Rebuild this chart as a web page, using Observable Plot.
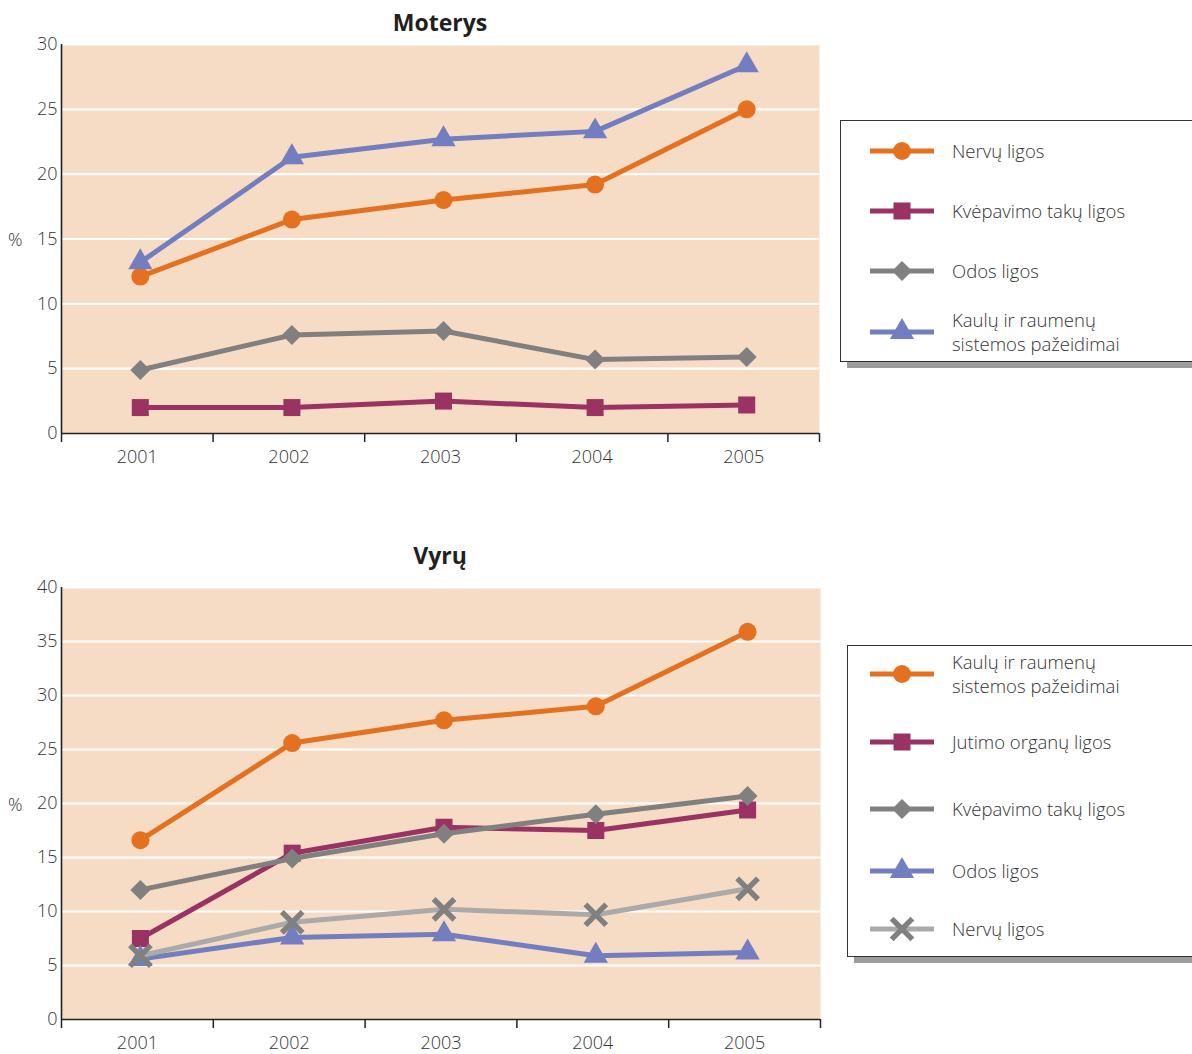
<!DOCTYPE html>
<html><head><meta charset="utf-8">
<script src="https://cdn.jsdelivr.net/npm/d3@7"></script>
<script src="https://cdn.jsdelivr.net/npm/@observablehq/plot@0.6"></script>
<style>
body{margin:0;background:#fff;font-family:"Open Sans",sans-serif;}
#wrap{position:relative;width:1192px;height:1054px;overflow:hidden;background:#fff;}
.title{position:absolute;left:340px;width:200px;text-align:center;font-weight:700;font-size:23px;color:#231f20;line-height:28px;}
.pct{position:absolute;left:8px;font-size:18px;color:#333;font-weight:300;line-height:20px;}
.legend{position:absolute;border:1.5px solid #333;background:#fff;box-shadow:7px 6px 0 #9c9c9c;width:400px;}
.item{position:absolute;display:flex;align-items:center;transform:translateY(-50%);}
.item .txt{font-size:18.5px;color:#333;line-height:24px;font-weight:300;position:absolute;white-space:nowrap;}
</style>
</head><body>
<div id="wrap"></div>
<script>
// ---------- data ----------
const years = [2001, 2002, 2003, 2004, 2005];
const yearBounds = [2000.5, 2001.5, 2002.5, 2003.5, 2004.5, 2005.5];

const womenTitle = "Moterys";
const womenSeries = ["Nervų ligos", "Kvėpavimo takų ligos", "Odos ligos", "Kaulų ir raumenų sistemos pažeidimai"];
const womenNervu = [12.1, 16.5, 18.0, 19.2, 25.0];
const womenKvepavimo = [2.0, 2.0, 2.5, 2.0, 2.2];
const womenOdos = [4.9, 7.6, 7.9, 5.7, 5.9];
const womenKaulu = [13.2, 21.3, 22.7, 23.3, 28.4];
const womenTicks = [0, 5, 10, 15, 20, 25, 30];

const menTitle = "Vyrų";
const menSeries = ["Kaulų ir raumenų sistemos pažeidimai", "Jutimo organų ligos", "Kvėpavimo takų ligos", "Odos ligos", "Nervų ligos"];
const menKaulu = [16.6, 25.6, 27.7, 29.0, 35.9];
const menJutimo = [7.5, 15.4, 17.8, 17.5, 19.4];
const menKvepavimo = [12.0, 14.9, 17.2, 19.0, 20.7];
const menOdos = [5.6, 7.6, 7.9, 5.9, 6.2];
const menNervu = [5.9, 9.0, 10.2, 9.7, 12.1];
const menTicks = [0, 5, 10, 15, 20, 25, 30, 35, 40];

// ---------- styles ----------
const ORANGE = "#e4711f", MAGENTA = "#9a3263", GREY = "#808080", BLUE = "#727ec0", LGREY = "#abaaab";
const womenStyles = [
  {line: ORANGE, mark: ORANGE, symbol: "circle"},
  {line: MAGENTA, mark: MAGENTA, symbol: "square"},
  {line: GREY, mark: GREY, symbol: "diamond2"},
  {line: BLUE, mark: BLUE, symbol: "triangle"}
];
const menStyles = [
  {line: ORANGE, mark: ORANGE, symbol: "circle"},
  {line: MAGENTA, mark: MAGENTA, symbol: "square"},
  {line: GREY, mark: GREY, symbol: "diamond2"},
  {line: BLUE, mark: BLUE, symbol: "triangle"},
  {line: LGREY, mark: GREY, symbol: "times"}
];
const R = {circle: 9, square: 9.6, diamond2: 9, triangle: 9, times: 9.5};

const wrap = document.getElementById("wrap");

function buildChart(series, values, styles, ticks, opts) {
  const yMax = ticks[ticks.length - 1];
  const marks = [
    Plot.frame({fill: "#f6dbc5", stroke: null}),
    Plot.ruleY(ticks.filter(t => t > 0), {stroke: "#fff", strokeWidth: 2.2}),
    Plot.axisY({ticks, tickSize: 0, tickPadding: 4, fontSize: 18, label: null, fill: "#333"}),
    Plot.axisX({ticks: yearBounds, tickSize: 9, tickFormat: () => "", label: null, stroke: "#222", strokeWidth: 1.5}),
    Plot.axisX({ticks: years, tickSize: 0, tickPadding: 17, tickFormat: d => String(d), fontSize: 18, label: null, fill: "#333"}),
    Plot.ruleX([yearBounds[0]], {stroke: "#222", strokeWidth: 1.6}),
    Plot.ruleY([0], {stroke: "#222", strokeWidth: 1.6})
  ];
  series.forEach((s, i) => {
    const rows = years.map((y, j) => ({series: s, year: y, value: values[i][j]}));
    const st = styles[i];
    marks.push(Plot.line(rows, {x: "year", y: "value", stroke: st.line, strokeWidth: 5, dx: 3}));
    if (st.symbol === "times") {
      marks.push(Plot.dot(rows, {x: "year", y: "value", symbol: "times", r: R.times, stroke: st.mark, strokeWidth: 5.5, fill: "none", dx: 3}));
    } else {
      marks.push(Plot.dot(rows, {x: "year", y: "value", symbol: st.symbol, r: R[st.symbol], fill: st.mark, stroke: "none", dx: 3}));
    }
  });
  const svg = Plot.plot({
    width: 830,
    height: opts.height,
    marginLeft: 61,
    marginRight: opts.marginRight,
    marginTop: opts.marginTop,
    marginBottom: opts.marginBottom,
    x: {domain: [yearBounds[0], yearBounds[yearBounds.length - 1]]},
    y: {domain: [0, yMax]},
    style: {fontFamily: "'Open Sans', sans-serif", fontWeight: 300, fontSize: "18px", color: "#222", background: "transparent", overflow: "visible"},
    marks
  });
  svg.style.position = "absolute";
  svg.style.left = "0px";
  svg.style.top = opts.top + "px";
  wrap.appendChild(svg);
}

function addTitle(text, top) {
  const d = document.createElement("div");
  d.className = "title"; d.textContent = text; d.style.top = top + "px";
  wrap.appendChild(d);
}
function addPct(top) {
  const d = document.createElement("div");
  d.className = "pct"; d.textContent = "%"; d.style.top = top + "px";
  wrap.appendChild(d);
}

function swatch(st) {
  const w = 64, h = 28;
  const svg = d3.create("svg").attr("width", w).attr("height", h).style("overflow", "visible");
  svg.append("line").attr("x1", 0).attr("x2", w).attr("y1", h / 2).attr("y2", h / 2)
    .attr("stroke", st.line).attr("stroke-width", 5);
  const typeMap = {circle: d3.symbolCircle, square: d3.symbolSquare, diamond2: d3.symbolDiamond2, triangle: d3.symbolTriangle, times: d3.symbolTimes};
  const r = R[st.symbol];
  const p = svg.append("path").attr("transform", `translate(${w / 2},${h / 2})`)
    .attr("d", d3.symbol(typeMap[st.symbol], Math.PI * r * r)());
  if (st.symbol === "times") p.attr("fill", "none").attr("stroke", st.mark).attr("stroke-width", 5.5);
  else p.attr("fill", st.mark);
  return svg.node();
}

function addLegend(series, styles, box, centers, swLeft, txtLeft) {
  const lg = document.createElement("div");
  lg.className = "legend";
  lg.style.left = box.left + "px"; lg.style.top = box.top + "px"; lg.style.height = box.height + "px";
  series.forEach((s, i) => {
    const it = document.createElement("div");
    it.className = "item";
    it.style.top = centers[i] + "px";
    it.style.left = swLeft + "px";
    it.appendChild(swatch(styles[i]));
    const t = document.createElement("div");
    t.className = "txt";
    t.style.left = (txtLeft - swLeft) + "px";
    if (s === "Kaulų ir raumenų sistemos pažeidimai") t.innerHTML = "Kaulų ir raumenų<br>sistemos pažeidimai";
    else t.textContent = s;
    it.appendChild(t);
    lg.appendChild(it);
  });
  wrap.appendChild(lg);
}

// top chart (women)
addTitle(womenTitle, 8);
buildChart(womenSeries, [womenNervu, womenKvepavimo, womenOdos, womenKaulu], womenStyles, womenTicks,
  {top: 0, height: 480, marginTop: 44, marginBottom: 47, marginRight: 11});
addPct(229);
addLegend(womenSeries, womenStyles, {left: 840, top: 120, height: 240}, [30, 90, 150, 211], 29, 111);

// bottom chart (men)
addTitle(menTitle, 541);
buildChart(menSeries, [menKaulu, menJutimo, menKvepavimo, menOdos, menNervu], menStyles, menTicks,
  {top: 520, height: 534, marginTop: 67, marginBottom: 35, marginRight: 10});
addPct(794);
addLegend(menSeries, menStyles, {left: 847, top: 645, height: 310}, [28, 96, 163, 225, 283], 22, 104);
</script>
</body></html>
